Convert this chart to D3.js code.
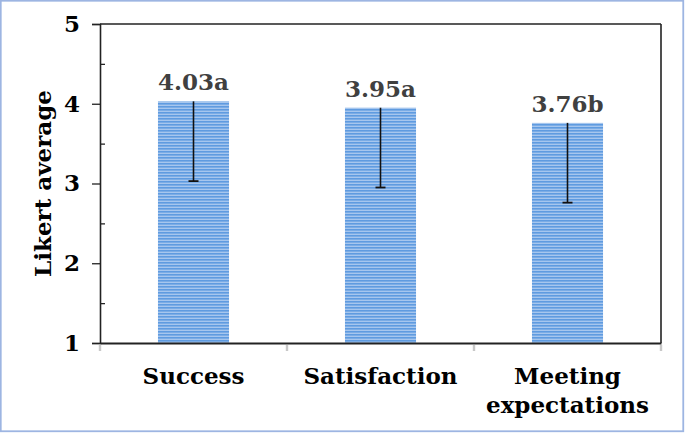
<!DOCTYPE html>
<html><head><meta charset="utf-8">
<script src="https://cdn.jsdelivr.net/npm/d3@7"></script>
<style>html,body{margin:0;padding:0;background:#fff;}svg{display:block;}</style>
</head><body>
<script>
const categories = ["Success", "Satisfaction", "Meeting expectations"];
const values = [4.03, 3.95, 3.76];
const errors = [1, 1, 1];
const labels = ["4.03a", "3.95a", "3.76b"];
const yTicks = [1, 2, 3, 4, 5];
const yMinorTicks = [1.5, 2.5, 3.5, 4.5];

const W = 685, H = 433;
const m = {left: 100, top: 24, right: 24, bottom: 90};
const FONT = "'DejaVu Serif', Georgia, serif";

const svg = d3.select("body").append("svg").attr("width", W).attr("height", H);

// outer border
svg.append("rect").attr("x", 0.75).attr("y", 0.75).attr("width", W - 2.5).attr("height", H - 2.5)
  .attr("fill", "#fff").attr("stroke", "#9db5e2").attr("stroke-width", 1.8);

const defs = svg.append("defs");
const pat = defs.append("pattern").attr("id", "stripes").attr("patternUnits", "userSpaceOnUse")
  .attr("width", 8).attr("height", 3);
pat.append("rect").attr("width", 8).attr("height", 3).attr("fill", "#a6c6ee");
pat.append("rect").attr("y", 1).attr("width", 8).attr("height", 1.6).attr("fill", "#5f9be0");

const x = d3.scaleBand().domain(categories).range([m.left, W - m.right]).paddingInner(0).paddingOuter(0);
const y = d3.scaleLinear().domain([1, 5]).range([H - m.bottom, m.top]);
const bw = x.bandwidth() * 0.38;

// top and right frame lines
svg.append("line").attr("x1", m.left).attr("x2", W - m.right).attr("y1", y(5)).attr("y2", y(5))
  .attr("stroke", "#222").attr("stroke-width", 1.6);
svg.append("line").attr("x1", W - m.right).attr("x2", W - m.right).attr("y1", y(5)).attr("y2", y(1))
  .attr("stroke", "#222").attr("stroke-width", 1.6);

// bars
svg.append("g").selectAll("rect").data(categories).join("rect")
  .attr("x", d => x(d) + x.bandwidth() / 2 - bw / 2)
  .attr("width", bw)
  .attr("y", (d, i) => y(values[i]))
  .attr("height", (d, i) => y(1) - y(values[i]))
  .attr("fill", "url(#stripes)");

// error bars (downward)
const eg = svg.append("g");
categories.forEach((c, i) => {
  const cx = x(c) + x.bandwidth() / 2;
  eg.append("line").attr("x1", cx).attr("x2", cx).attr("y1", y(values[i])).attr("y2", y(values[i] - errors[i]))
    .attr("stroke", "#111").attr("stroke-width", 1.6);
  eg.append("line").attr("x1", cx - 5).attr("x2", cx + 5).attr("y1", y(values[i] - errors[i])).attr("y2", y(values[i] - errors[i]))
    .attr("stroke", "#111").attr("stroke-width", 1.8);
});

// value labels
svg.append("g").selectAll("text").data(categories).join("text")
  .attr("x", d => x(d) + x.bandwidth() / 2)
  .attr("y", (d, i) => y(values[i]) - 11)
  .attr("text-anchor", "middle")
  .attr("font-family", FONT).attr("font-weight", "bold").attr("font-size", 23)
  .attr("fill", "#404040")
  .text((d, i) => labels[i]);

// y axis
const yAxis = svg.append("g").attr("transform", `translate(${m.left},0)`)
  .call(d3.axisLeft(y).tickValues(yTicks).tickFormat(d3.format("d")).tickSize(8).tickPadding(12));
yAxis.select(".domain").attr("stroke", "#222").attr("stroke-width", 1.6);
yAxis.selectAll(".tick line").attr("stroke", "#222").attr("stroke-width", 1.3);
yAxis.selectAll("text").attr("font-family", FONT).attr("font-weight", "bold").attr("font-size", 23).attr("fill", "#000");
const yMinor = svg.append("g").attr("transform", `translate(${m.left},0)`)
  .call(d3.axisRight(y).tickValues(yMinorTicks).tickSize(5).tickFormat(""));
yMinor.select(".domain").remove();
yMinor.selectAll(".tick line").attr("stroke", "#222").attr("stroke-width", 1.3);

// x axis
const xAxis = svg.append("g").attr("transform", `translate(0,${y(1)})`)
  .call(d3.axisBottom(x).tickSize(0).tickFormat(""));
xAxis.select(".domain").attr("stroke", "#222").attr("stroke-width", 2);
// gray boundary ticks
const bounds = categories.map(c => x(c)).concat([x(categories[categories.length - 1]) + x.bandwidth()]);
svg.append("g").selectAll("line").data(bounds).join("line")
  .attr("x1", d => d).attr("x2", d => d).attr("y1", y(1) + 2).attr("y2", y(1) + 8)
  .attr("stroke", "#c8c8c8").attr("stroke-width", 2.4);

// x labels
const xl = svg.append("g").selectAll("text").data(categories).join("text")
  .attr("x", d => x(d) + x.bandwidth() / 2)
  .attr("y", y(1) + 41)
  .attr("text-anchor", "middle")
  .attr("font-family", FONT).attr("font-weight", "bold").attr("font-size", 23).attr("fill", "#000");
xl.each(function(d) {
  const words = d === "Meeting expectations" ? ["Meeting", "expectations"] : [d];
  const t = d3.select(this);
  words.forEach((w, k) => t.append("tspan").attr("x", x(d) + x.bandwidth() / 2).attr("dy", k === 0 ? 0 : 29).text(w));
});

// y title
svg.append("text")
  .attr("transform", `translate(51,${(y(1) + y(5)) / 2}) rotate(-90)`)
  .attr("text-anchor", "middle")
  .attr("font-family", FONT).attr("font-weight", "bold").attr("font-size", 23).attr("fill", "#000")
  .text("Likert average");
</script>
</body></html>
